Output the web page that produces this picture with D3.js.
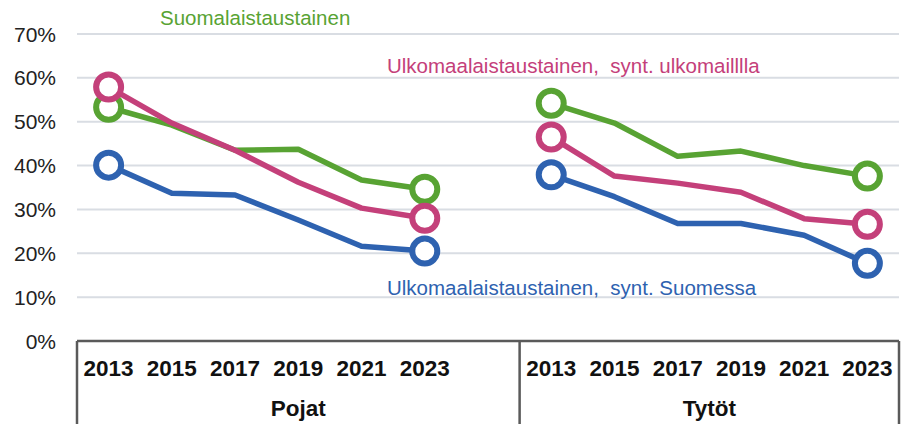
<!DOCTYPE html>
<html>
<head>
<meta charset="utf-8">
<script src="https://d3js.org/d3.v7.min.js"></script>
<style>
  body { margin: 0; background: #fff; }
  svg { display: block; font-family: "Liberation Sans", Arial, sans-serif; }
</style>
</head>
<body>
<svg id="chart" width="906" height="424"></svg>
<script>
const years = ["2013", "2015", "2017", "2019", "2021", "2023"]
const groups = ["Pojat", "Tytöt"]
const yTicks = [0, 10, 20, 30, 40, 50, 60, 70]

// values in percent, [Pojat, Tytöt]
const suomalais = [[53.3, 49.2, 43.5, 43.7, 36.7, 34.6], [54.2, 49.7, 42.1, 43.3, 40.0, 37.6]]
const ulkoUlkomailla = [[57.9, 49.7, 43.5, 36.2, 30.3, 28.0], [46.5, 37.6, 36.0, 33.9, 27.9, 26.6]]
const ulkoSuomessa = [[40.1, 33.7, 33.3, 27.6, 21.6, 20.5], [37.9, 32.9, 26.8, 26.8, 24.1, 17.7]]

const seriesNames = ["Suomalaistaustainen", "Ulkomaalaistaustainen,\u00a0 synt. ulkomailllla", "Ulkomaalaistaustainen,\u00a0 synt. Suomessa"]
const seriesColors = ["#58a333", "#c4407a", "#2e62b0"]

const series = [suomalais, ulkoUlkomailla, ulkoSuomessa].map((v, i) => ({ name: seriesNames[i], color: seriesColors[i], values: v }))

// category keys: Pojat years, one empty slot, Tytöt years
const cats = []
years.forEach(y => cats.push("Pojat|" + y))
cats.push("gap")
years.forEach(y => cats.push("Tytöt|" + y))

const svg = d3.select("#chart")
const left = 77, right = 899, axisY = 341

const x = d3.scaleBand().domain(cats).range([left, right]).padding(0)
const y = d3.scaleLinear().domain([0, 70]).range([axisY, 34])
const cx = k => x(k) + x.bandwidth() / 2

// gridlines
svg.append("g").selectAll("line")
  .data(yTicks.filter(d => d > 0))
  .join("line")
  .attr("x1", left).attr("x2", right)
  .attr("y1", d => y(d)).attr("y2", d => y(d))
  .attr("stroke", "#d9dde3").attr("stroke-width", 2)

// y labels
svg.append("g").selectAll("text")
  .data(yTicks)
  .join("text")
  .attr("x", 56).attr("y", d => y(d) + 7.5)
  .attr("text-anchor", "end")
  .attr("font-size", 21)
  .attr("fill", "#222")
  .text(d => d + "%")

// category axis frame
const axisG = svg.append("g").attr("stroke", "#5a5a5a").attr("stroke-width", 2.5)
axisG.append("line").attr("x1", left).attr("x2", right).attr("y1", axisY).attr("y2", axisY)
const sepX = [left, x("Tytöt|2013"), right]
axisG.selectAll("line.sep").data(sepX).join("line").attr("class", "sep")
  .attr("x1", d => d).attr("x2", d => d).attr("y1", axisY).attr("y2", 424)

// year labels
svg.append("g").selectAll("text")
  .data(cats.filter(c => c !== "gap"))
  .join("text")
  .attr("x", d => cx(d)).attr("y", 376)
  .attr("text-anchor", "middle")
  .attr("font-size", 22.5).attr("font-weight", "bold")
  .attr("fill", "#111")
  .text(d => d.split("|")[1])

// group labels
svg.append("g").selectAll("text")
  .data(groups)
  .join("text")
  .attr("x", (d, i) => i === 0 ? (left + sepX[1]) / 2 : (sepX[1] + right) / 2)
  .attr("y", 416)
  .attr("text-anchor", "middle")
  .attr("font-size", 22.5).attr("font-weight", "bold")
  .attr("fill", "#111")
  .text(d => d)

// lines and end markers
const line = d3.line().x(d => cx(d.k)).y(d => y(d.v))
series.forEach(s => {
  groups.forEach((g, gi) => {
    const pts = years.map((yr, i) => ({ k: g + "|" + yr, v: s.values[gi][i] }))
    svg.append("path")
      .datum(pts)
      .attr("d", line)
      .attr("fill", "none")
      .attr("stroke", s.color)
      .attr("stroke-width", 5.5)
      .attr("stroke-linejoin", "round")
    svg.append("g").selectAll("circle")
      .data([pts[0], pts[pts.length - 1]])
      .join("circle")
      .attr("cx", d => cx(d.k)).attr("cy", d => y(d.v))
      .attr("r", 12.5)
      .attr("fill", "#fff")
      .attr("stroke", s.color)
      .attr("stroke-width", 6)
  })
})

// series labels
const labelPos = [[160, 25], [387, 73], [387, 295]]
svg.append("g").selectAll("text")
  .data(series)
  .join("text")
  .attr("x", (d, i) => labelPos[i][0]).attr("y", (d, i) => labelPos[i][1])
  .attr("font-size", 20.5)
  .attr("fill", d => d.color)
  .text(d => d.name)
</script>
</body>
</html>
